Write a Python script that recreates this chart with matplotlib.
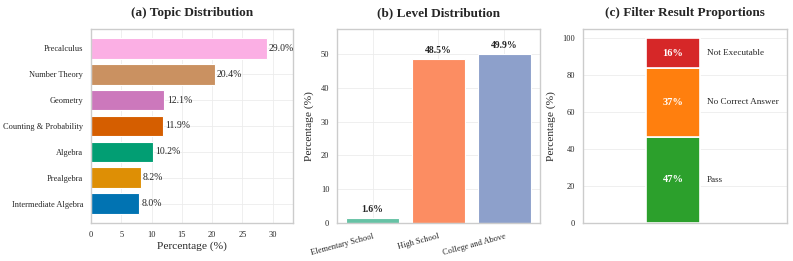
import numpy as np
import matplotlib
matplotlib.use("Agg")
import matplotlib.pyplot as plt
import seaborn as sns

# data
topics = ["Intermediate Algebra", "Prealgebra", "Algebra", "Counting & Probability",
          "Geometry", "Number Theory", "Precalculus"]
topic_pct = [8.0, 8.2, 10.2, 11.9, 12.1, 20.4, 29.0]
topic_colors = ["#0173b2", "#de8f05", "#029e73", "#d55e00", "#cc78bc", "#ca9161", "#fbafe4"]

levels = ["Elementary School", "High School", "College and Above"]
level_pct = [1.6, 48.5, 49.9]
level_colors = ["#66c2a5", "#fc8d62", "#8da0cb"]

results = ["Pass", "No Correct Answer", "Not Executable"]
result_pct = [46.7, 37.2, 16.1]
result_colors = ["#2ca02c", "#ff7f0e", "#d62728"]

sns.set_style("whitegrid")
plt.rcParams['font.family'] = ['Liberation Serif', 'DejaVu Serif']
plt.rcParams['axes.edgecolor'] = '#cccccc'
plt.rcParams['axes.linewidth'] = 1.0
plt.rcParams['grid.color'] = '#ececec'
plt.rcParams['grid.linewidth'] = 0.6

fig = plt.figure(figsize=(7.93, 2.61), dpi=100)
W, H = 793, 261
def pos(l, t, r, b):
    return [l / W, 1 - b / H, (r - l) / W, (b - t) / H]

ax1 = fig.add_axes(pos(91, 29, 293, 223))
ax2 = fig.add_axes(pos(337, 29, 540, 223))
ax3 = fig.add_axes(pos(583, 29, 787, 223))

# (a)
y = np.arange(len(topics))
ax1.barh(y, topic_pct, color=topic_colors, edgecolor='white', linewidth=0.8, height=0.8)
for yi, v in zip(y, topic_pct):
    ax1.text(v + 0.4, yi, f"{v:.1f}%", va='center', ha='left', fontsize=7)
ax1.set_yticks(y)
ax1.set_yticklabels(topics, fontsize=6)
ax1.set_xlim(0, max(topic_pct) * 1.15)
ax1.set_xticks([0, 5, 10, 15, 20, 25, 30])
ax1.tick_params(axis='x', labelsize=6, pad=2)
ax1.tick_params(axis='y', pad=2)
ax1.set_xlabel("Percentage (%)", fontsize=8.2, labelpad=2)
ax1.set_title("(a) Topic Distribution", fontsize=9.5, fontweight='bold', pad=9)

# (b)
x = np.arange(len(levels))
ax2.bar(x, level_pct, color=level_colors, edgecolor='white', linewidth=0.8, width=0.8)
for xi, v in zip(x, level_pct):
    ax2.text(xi, v + 1.2, f"{v:.1f}%", ha='center', va='bottom', fontsize=7, fontweight='bold')
ax2.set_xticks(x)
ax2.set_xticklabels(levels, rotation=15, ha='right', fontsize=6, rotation_mode='anchor')
ax2.set_ylim(0, max(level_pct) * 1.15)
ax2.tick_params(axis='y', labelsize=6, pad=2)
ax2.tick_params(axis='x', pad=3)
ax2.set_ylabel("Percentage (%)", fontsize=8.2, labelpad=5)
ax2.set_title("(b) Level Distribution", fontsize=9.5, fontweight='bold', pad=9)

# (c)
bottom = 0
for name, v, c in zip(results, result_pct, result_colors):
    ax3.bar(0, v, bottom=bottom, color=c, edgecolor='white', linewidth=1.2, width=0.5)
    ax3.text(0, bottom + v / 2, f"{v:.0f}%", ha='center', va='center',
             color='white', fontsize=7.5, fontweight='bold')
    ax3.text(0.31, bottom + v / 2, name, ha='left', va='center', fontsize=6.6)
    bottom += v
ax3.set_xlim(-0.82, 1.04)
ax3.set_ylim(0, 105)
ax3.set_xticks([])
ax3.xaxis.grid(False)
ax3.set_yticks([0, 20, 40, 60, 80, 100])
ax3.tick_params(axis='y', labelsize=6, pad=2)
ax3.set_ylabel("Percentage (%)", fontsize=8.2, labelpad=5)
ax3.set_title("(c) Filter Result Proportions", fontsize=9.5, fontweight='bold', pad=9)

fig.savefig("out.png", dpi=100)
